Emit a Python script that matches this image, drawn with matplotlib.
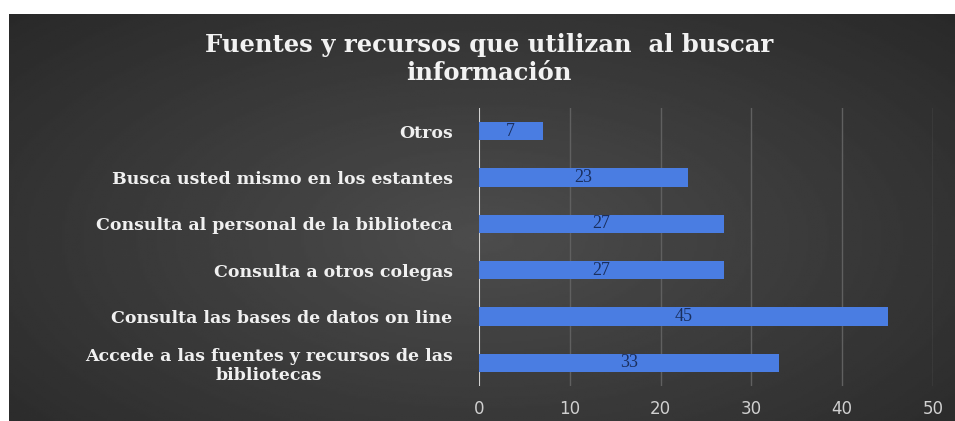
import numpy as np
import matplotlib.pyplot as plt

categorias = ['Accede a las fuentes y recursos de las\nbibliotecas',
              'Consulta las bases de datos on line',
              'Consulta a otros colegas',
              'Consulta al personal de la biblioteca',
              'Busca usted mismo en los estantes',
              'Otros']
valores = [33, 45, 27, 27, 23, 7]
xticks = [0, 10, 20, 30, 40, 50]
titulo = 'Fuentes y recursos que utilizan  al buscar\ninformación'

W, H = 955, 421
fig = plt.figure(figsize=(W / 100, H / 100), dpi=100, facecolor='white')

# dark panel with a soft radial gradient
bg = fig.add_axes([9 / W, 0, 1 - 9 / W, 1 - 14 / H])
yy, xx = np.mgrid[0:1:200j, 0:1:400j]
r = np.sqrt(((xx - 0.5) / 0.7) ** 2 + ((yy - 0.55) / 0.8) ** 2)
grad = np.clip(1 - r, 0, 1)
bg.imshow(grad, cmap='gray', vmin=-1.14, vmax=6.0, aspect='auto', extent=[0, 1, 0, 1])
bg.set_axis_off()

ax = fig.add_axes([479 / W, 1 - 386 / H, (933 - 479) / W, (386 - 108) / H])
ax.patch.set_alpha(0)
y = np.arange(len(categorias))
bars = ax.barh(y, valores, height=0.4, color='#4a7de2', zorder=3)
for b, v in zip(bars, valores):
    ax.text(v / 2, b.get_y() + b.get_height() / 2, str(v), ha='center', va='center',
            color='#1a2f5e', fontsize=13, family='Liberation Serif', zorder=4)

ax.set_xlim(0, 50)
ax.set_ylim(-0.5, 5.5)
ax.set_xticks(xticks)
ax.set_yticks(y)
ax.set_yticklabels(categorias, family='DejaVu Serif', fontweight='bold',
                   fontsize=12.5, color='#f0f0f0', multialignment='center')
ax.tick_params(axis='y', length=0, pad=19)
ax.tick_params(axis='x', length=0, pad=10, labelsize=12, labelcolor='#d0d0d0')
ax.grid(axis='x', color='#606060', linewidth=1, zorder=0)
ax.axvline(0, color='#e8e8e8', linewidth=1.2, zorder=2)
for s in ax.spines.values():
    s.set_visible(False)

fig.text(489 / W, 1 - 59 / H, titulo, ha='center', va='center', fontsize=17.5,
         family='DejaVu Serif', fontweight='bold', color='#f2f2f2',
         linespacing=1.2)

fig.savefig('out.png', dpi=100, facecolor='white')
